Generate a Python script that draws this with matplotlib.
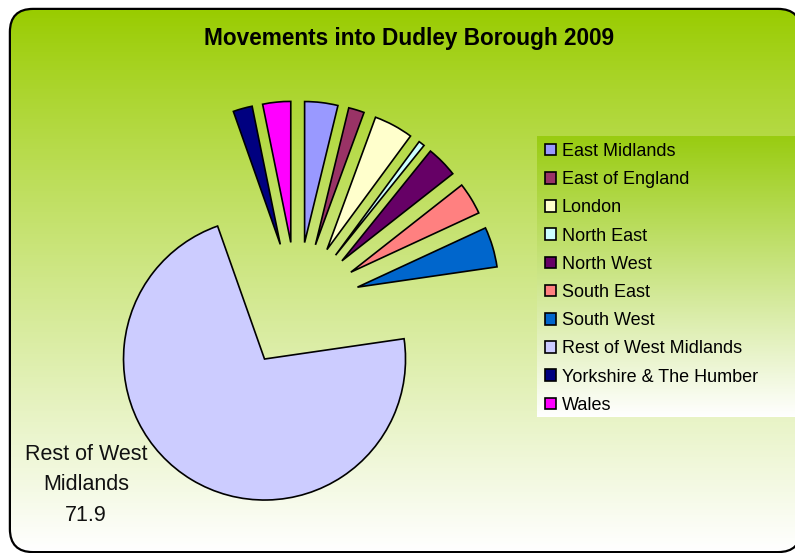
import numpy as np
import matplotlib.pyplot as plt
from matplotlib.patches import FancyBboxPatch

plt.rcParams['font.family'] = ['Liberation Sans', 'DejaVu Sans']

# data (percent of moves into Dudley, 2009)
regions = ["East Midlands", "East of England", "London", "North East", "North West",
           "South East", "South West", "Rest of West Midlands",
           "Yorkshire & The Humber", "Wales"]
shares = [3.8, 1.8, 4.5, 0.7, 3.6, 3.7, 4.6, 71.9, 2.2, 3.2]
colors = ["#9999FF", "#993366", "#FFFFCC", "#CCFFFF", "#660066",
          "#FF8080", "#0066CC", "#CCCCFF", "#000080", "#FF00FF"]

W, H = 795, 553
fig = plt.figure(figsize=(W / 100, H / 100), dpi=100)
ax = fig.add_axes([0, 0, 1, 1])


def vgrad(top_rgb, extent, zorder, gamma=1.0):
    # vertical gradient from top colour to white
    t = np.linspace(0, 1, 256)[:, None] ** gamma
    top = np.array(top_rgb) / 255.0
    img = top[None, None, :] * (1 - t[..., None]) + t[..., None]
    return ax.imshow(img, extent=extent, aspect='auto', origin='upper',
                     zorder=zorder, interpolation='bilinear')


# chart area: rounded box, border drawn under the gradient (which is clipped to it)
box = FancyBboxPatch((11, 2), 789, 541, boxstyle="round,pad=0,rounding_size=22",
                     facecolor='white', edgecolor='black', linewidth=3.2, zorder=-1)
ax.add_patch(box)
bg = vgrad((153, 204, 0), (11, 800, 2, 543), 0, gamma=0.9)
bg.set_clip_path(box)

# legend background
vgrad((153, 204, 17), (537, 797, 553 - 417, 553 - 136), 1)

wedges, _ = ax.pie(shares, colors=colors, startangle=90, counterclock=False,
                   explode=[63] * len(shares), radius=141, center=(297.1, 247.9),
                   wedgeprops=dict(edgecolor='black', linewidth=1.2))
for w in wedges:
    w.set_zorder(2)

ax.text(86, 553 - 485, "Rest of West\nMidlands\n71.9", ha='center', va='center',
        fontsize=15.5, linespacing=1.57, color='#111111', zorder=4)

ax.text(409, 553 - 45.5, "Movements into Dudley Borough 2009", ha='center',
        va='baseline', fontsize=16.3, fontweight='bold', zorder=4)

leg = ax.legend(wedges, regions, loc='upper left', bbox_to_anchor=(545, 553 - 143),
                bbox_transform=ax.transData, frameon=False, fontsize=13,
                handlelength=0.6, handleheight=0.6, handletextpad=0.33,
                labelspacing=0.62, borderpad=0, borderaxespad=0)
leg.set_zorder(5)

ax.set_xlim(0, W)
ax.set_ylim(0, H)
ax.set_aspect('auto')
ax.axis('off')

fig.savefig("out.png", dpi=100, facecolor='white')
